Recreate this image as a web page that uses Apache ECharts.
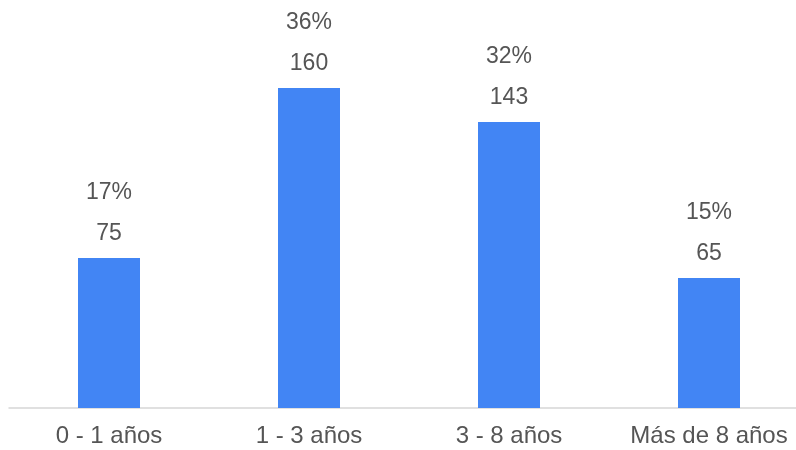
<!DOCTYPE html>
<html>
<head>
<meta charset="utf-8">
<script src="https://cdn.jsdelivr.net/npm/echarts@6/dist/echarts.min.js"></script>
<style>
  html, body { margin: 0; padding: 0; background: #fff; }
  #chart { width: 796px; height: 450px; }
</style>
</head>
<body>
<div id="chart"></div>
<script>
// Antigüedad: number of people per tenure band and their share
const categories = ['0 - 1 años', '1 - 3 años', '3 - 8 años', 'Más de 8 años'];
const counts = [75, 160, 143, 65];
const shares = [17, 36, 32, 15];

const chart = echarts.init(document.getElementById('chart'));
const font = 'Arial, "Liberation Sans", sans-serif';

chart.setOption({
  animation: false,
  // plot runs slightly past the right edge so the last band is clipped
  grid: { left: 9, width: 800, top: 8, bottom: 42, outerBoundsMode: 'none', containLabel: false },
  xAxis: {
    type: 'category',
    data: categories,
    axisLine: { show: true, lineStyle: { color: '#d6d6d6', width: 1.5 } },
    axisTick: { show: false },
    axisLabel: { color: '#555', fontSize: 24, fontFamily: font, margin: 16, interval: 0 }
  },
  yAxis: {
    type: 'value',
    min: 0,
    max: 200,
    show: false,
    splitLine: { show: false }
  },
  series: [{
    type: 'bar',
    data: counts,
    barWidth: 62,
    itemStyle: { color: '#4285F4' },
    label: {
      show: true,
      position: 'top',
      distance: 4,
      fontFamily: font,
      formatter: p => '{p|' + shares[p.dataIndex] + '%}\n{v|' + p.value + '}',
      rich: {
        p: { color: '#555', fontSize: 23, fontFamily: font, lineHeight: 41 },
        v: { color: '#555', fontSize: 23, fontFamily: font, lineHeight: 41 }
      }
    }
  }]
});
</script>
</body>
</html>
